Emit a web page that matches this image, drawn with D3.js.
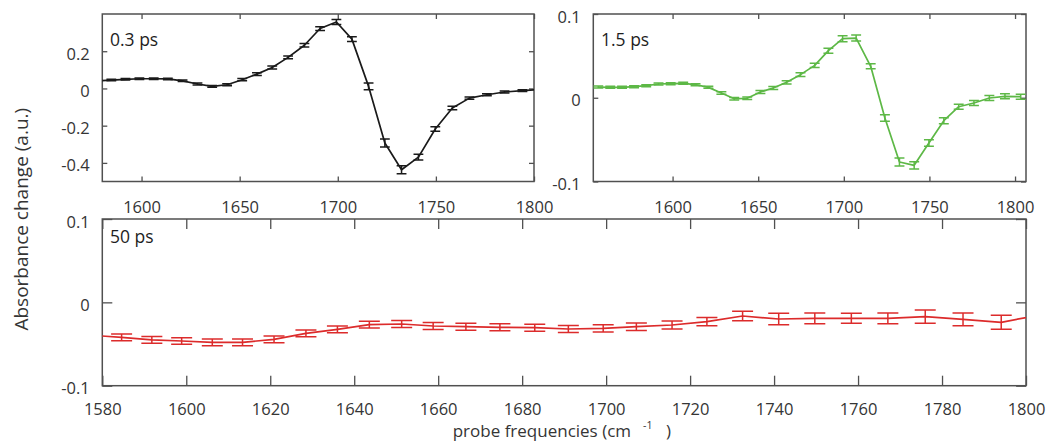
<!DOCTYPE html>
<html><head><meta charset="utf-8">
<script src="https://cdn.jsdelivr.net/npm/d3@7"></script>
<style>body{margin:0;background:#fff} text{font-family:"Open Sans",sans-serif}</style>
</head><body><svg id="c" width="1049" height="444"></svg>
<script>
// probe frequencies (cm^-1) of the data points
const freqs = [1556.6, 1563.6, 1570.5, 1577.5, 1584.6, 1591.8, 1598.9, 1606.2, 1613.4, 1620.9, 1628.5, 1636.0, 1643.6, 1651.3, 1658.8, 1666.6, 1674.7, 1683.0, 1691.0, 1699.3, 1707.2, 1715.7, 1724.0, 1732.5, 1741.1, 1749.7, 1758.4, 1767.1, 1776.0, 1785.0, 1794.1, 1803.3];
// 0.3 ps
const abs03 = [null, null, null, 0.040, 0.045, 0.049, 0.052, 0.052, 0.051, 0.041, 0.024, 0.011, 0.020, 0.047, 0.077, 0.113, 0.167, 0.232, 0.322, 0.357, 0.265, 0.011, -0.293, -0.437, -0.369, -0.218, -0.105, -0.052, -0.034, -0.019, -0.012, -0.006];
const err03 = [null, null, null, 0.004, 0.004, 0.004, 0.004, 0.004, 0.004, 0.004, 0.005, 0.005, 0.005, 0.006, 0.007, 0.008, 0.008, 0.009, 0.010, 0.013, 0.013, 0.018, 0.021, 0.022, 0.016, 0.012, 0.009, 0.006, 0.005, 0.005, 0.005, 0.005];
// 1.5 ps
const abs15 = [0.0128, 0.0124, 0.0124, 0.0132, 0.0144, 0.0164, 0.0168, 0.0172, 0.0156, 0.0124, 0.0057, -0.0011, -0.0007, 0.0069, 0.0116, 0.0184, 0.0276, 0.0387, 0.0562, 0.0705, 0.0713, 0.0375, -0.0242, -0.0767, -0.0807, -0.054, -0.0274, -0.0107, -0.0063, -0.0003, 0.0017, 0.0013];
const err15 = [0.0012, 0.0012, 0.0012, 0.0012, 0.0012, 0.0012, 0.0012, 0.0012, 0.0012, 0.0012, 0.0015, 0.0015, 0.0015, 0.0018, 0.0018, 0.002, 0.0022, 0.0025, 0.003, 0.0036, 0.0036, 0.003, 0.004, 0.0048, 0.0044, 0.004, 0.0035, 0.003, 0.003, 0.003, 0.003, 0.003];
// 50 ps
const abs50 = [null, null, null, -0.0395, -0.042, -0.045, -0.0464, -0.048, -0.048, -0.0444, -0.0372, -0.0324, -0.0268, -0.026, -0.0284, -0.0292, -0.030, -0.0304, -0.032, -0.0312, -0.0292, -0.0272, -0.0232, -0.0164, -0.020, -0.0192, -0.0192, -0.0192, -0.0172, -0.0204, -0.024, -0.015];
const err50 = [null, null, null, 0.004, 0.004, 0.004, 0.004, 0.004, 0.004, 0.004, 0.004, 0.004, 0.004, 0.0042, 0.0042, 0.0042, 0.0042, 0.0042, 0.0042, 0.0044, 0.0045, 0.0048, 0.005, 0.0056, 0.007, 0.0065, 0.006, 0.0065, 0.008, 0.0076, 0.0084, 0.008];

const ticksX1 = [1600, 1650, 1700, 1750, 1800];
const ticksY1 = [-0.4, -0.2, 0, 0.2];
const ticksX2 = [1600, 1650, 1700, 1750, 1800];
const ticksY2 = [-0.1, 0, 0.1];
const ticksX3 = [1580, 1600, 1620, 1640, 1660, 1680, 1700, 1720, 1740, 1760, 1780, 1800];
const ticksY3 = [-0.1, 0, 0.1];
const panelLabels = ["0.3 ps", "1.5 ps", "50 ps"];
const yTitle = "Absorbance change (a.u.)";
const xTitle = "probe frequencies (cm";

const svg = d3.select("#c");
const FRAME = "#505050", TXT = "#353535";

const panels = [
  {l:102.3, r:534, t:14, b:181.5, xd:[1580,1800], yd:[-0.5,0.4], tl:5, cap:2.5, color:"#1a1a1a",
   vals:abs03, errs:err03, tx:ticksX1, ty:ticksY1, label:panelLabels[0], lx:110, ly:46.3, xlb:31},
  {l:593.3, r:1026, t:14, b:181.5, xd:[1553.7,1806.4], yd:[-0.1,0.1], tl:5, cap:2.9, color:"#5db846",
   vals:abs15, errs:err15, tx:ticksX2, ty:ticksY2, label:panelLabels[1], lx:601, ly:46.3, xlb:31},
  {l:102.3, r:1026, t:219, b:385.7, xd:[1580,1800], yd:[-0.1,0.1], tl:10, cap:2.5, color:"#dc2b2b",
   vals:abs50, errs:err50, tx:ticksX3, ty:ticksY3, label:panelLabels[2], lx:110, ly:243.3, xlb:29}
];

panels.forEach((p, i) => {
  const x = d3.scaleLinear().domain(p.xd).range([p.l, p.r]);
  const y = d3.scaleLinear().domain(p.yd).range([p.b, p.t]);
  const w = p.r - p.l, h = p.b - p.t;
  const fmt = d => String(d);

  const gb = svg.append("g").attr("transform", `translate(0,${p.b})`)
    .call(d3.axisBottom(x).tickValues(p.tx).tickSize(-p.tl).tickFormat(fmt));
  gb.selectAll("text").attr("y", p.xlb).attr("dy", null);
  svg.append("g").attr("transform", `translate(0,${p.t})`)
    .call(d3.axisTop(x).tickValues(p.tx).tickSize(-p.tl).tickFormat(""));
  const gl = svg.append("g").attr("transform", `translate(${p.l},0)`)
    .call(d3.axisLeft(y).tickValues(p.ty).tickSize(-p.tl).tickFormat(fmt));
  gl.selectAll("text").attr("x", -12.5).attr("dy", null).attr("y", 8);
  svg.append("g").attr("transform", `translate(${p.r},0)`)
    .call(d3.axisRight(y).tickValues(p.ty).tickSize(-p.tl).tickFormat(""));

  svg.selectAll(".domain").remove();
  svg.selectAll(".tick line").attr("stroke", FRAME).attr("stroke-width", 1.3);
  svg.selectAll(".tick text").attr("fill", TXT).attr("font-size", 16.5)
     .attr("font-family", '"Open Sans", sans-serif');

  svg.append("rect").attr("x", p.l).attr("y", p.t).attr("width", w).attr("height", h)
    .attr("fill", "none").attr("stroke", FRAME).attr("stroke-width", 1.5);

  const cid = "clip" + i;
  svg.append("clipPath").attr("id", cid).append("rect")
    .attr("x", p.l).attr("y", p.t).attr("width", w).attr("height", h);
  const g = svg.append("g").attr("clip-path", `url(#${cid})`);

  const pts = freqs.map((f, k) => ({f, v: p.vals[k], e: p.errs[k]})).filter(d => d.v !== null);
  const line = d3.line().x(d => x(d.f)).y(d => y(d.v));
  g.append("path").datum(pts).attr("d", line).attr("fill", "none")
    .attr("stroke", p.color).attr("stroke-width", 1.7).attr("stroke-linejoin", "round");

  const eb = g.selectAll(".eb").data(pts).enter().append("g").attr("class", "eb")
    .attr("stroke", p.color).attr("stroke-width", 1.5).attr("fill", "none");
  eb.append("line").attr("x1", d => x(d.f)).attr("x2", d => x(d.f))
    .attr("y1", d => y(d.v - d.e)).attr("y2", d => y(d.v + d.e));
  eb.append("line").attr("x1", d => x(d.f - p.cap)).attr("x2", d => x(d.f + p.cap))
    .attr("y1", d => y(d.v + d.e)).attr("y2", d => y(d.v + d.e));
  eb.append("line").attr("x1", d => x(d.f - p.cap)).attr("x2", d => x(d.f + p.cap))
    .attr("y1", d => y(d.v - d.e)).attr("y2", d => y(d.v - d.e));

  svg.append("text").attr("x", p.lx).attr("y", p.ly).attr("font-size", 17.5)
    .attr("fill", "#1e1e1e").text(p.label);
});

svg.append("text").attr("transform", "translate(27.5,219.2) rotate(-90)")
  .attr("text-anchor", "middle").attr("font-size", 19).attr("fill", TXT).text(yTitle);

const xt = svg.append("text").attr("x", 452.7).attr("y", 437).attr("font-size", 17).attr("fill", TXT);
xt.append("tspan").text(xTitle);
xt.append("tspan").attr("x", 643).attr("y", 429).attr("font-size", 10.5).text("-1");
xt.append("tspan").attr("x", 666).attr("y", 437).text(")");
</script></body></html>
